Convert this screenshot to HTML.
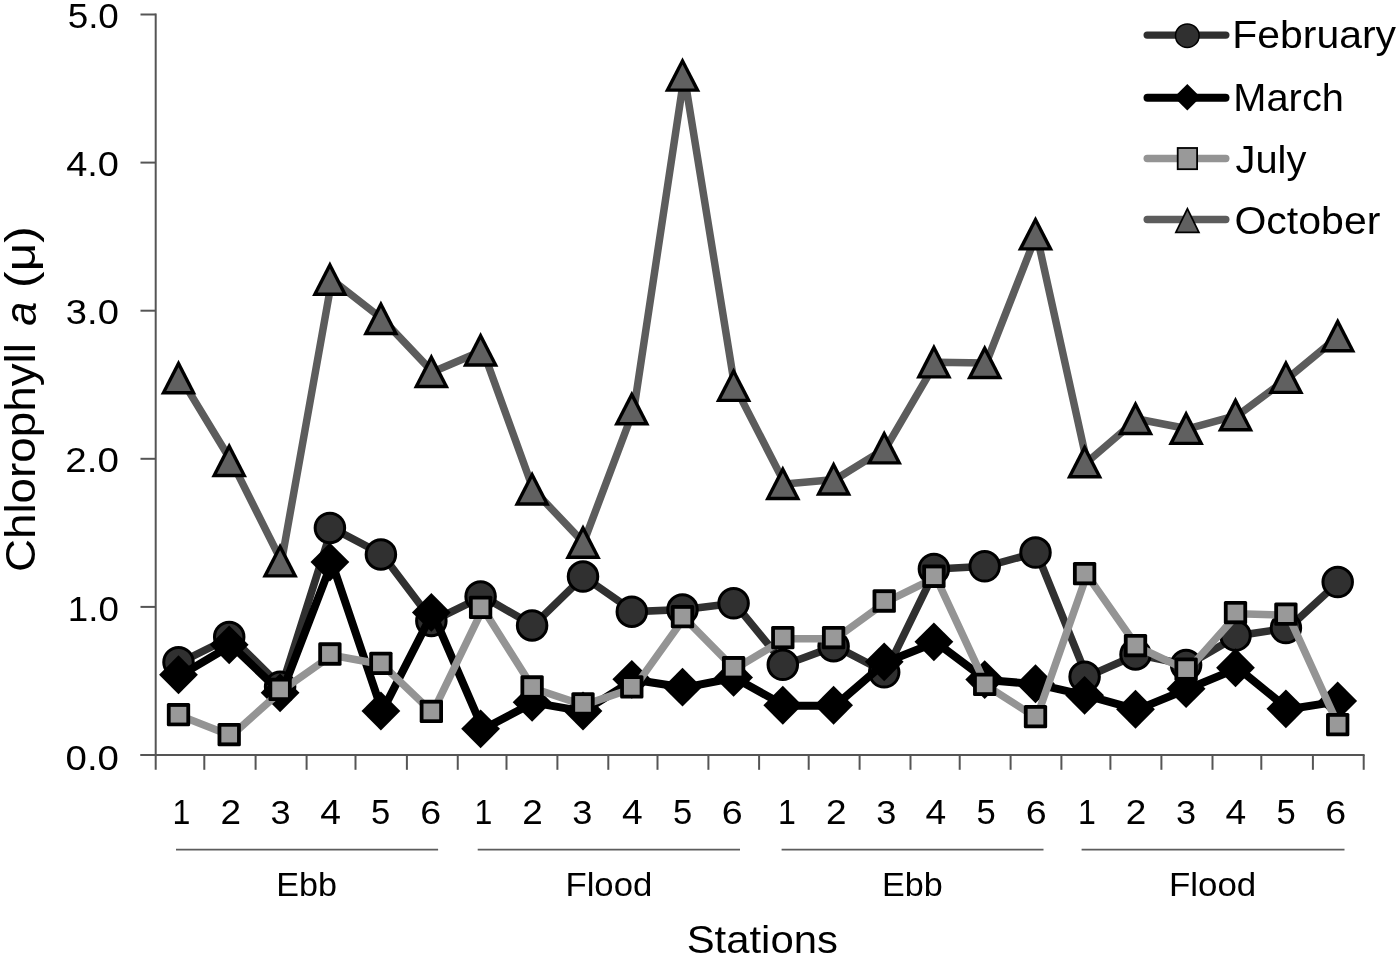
<!DOCTYPE html><html><head><meta charset="utf-8"><title>Chlorophyll a by station</title><style>html,body{margin:0;padding:0;background:#fff;overflow:hidden;}svg{display:block;filter:grayscale(1);}</style></head><body>
<svg width="1400" height="957" viewBox="0 0 1400 957">
<rect width="1400" height="957" fill="#fff"/>
<g stroke="#555555" stroke-width="2" fill="none">
<line x1="155.7" y1="13.5" x2="155.7" y2="769.8"/>
<line x1="140.5" y1="755.00" x2="155.7" y2="755.00"/>
<line x1="140.5" y1="606.90" x2="155.7" y2="606.90"/>
<line x1="140.5" y1="458.80" x2="155.7" y2="458.80"/>
<line x1="140.5" y1="310.70" x2="155.7" y2="310.70"/>
<line x1="140.5" y1="162.60" x2="155.7" y2="162.60"/>
<line x1="140.5" y1="14.50" x2="155.7" y2="14.50"/>
<line x1="140.5" y1="755.0" x2="1364.6" y2="755.0"/>
<line x1="204.30" y1="755.0" x2="204.30" y2="769.8"/>
<line x1="255.60" y1="755.0" x2="255.60" y2="769.8"/>
<line x1="306.60" y1="755.0" x2="306.60" y2="769.8"/>
<line x1="355.50" y1="755.0" x2="355.50" y2="769.8"/>
<line x1="406.90" y1="755.0" x2="406.90" y2="769.8"/>
<line x1="457.75" y1="755.0" x2="457.75" y2="769.8"/>
<line x1="506.50" y1="755.0" x2="506.50" y2="769.8"/>
<line x1="557.40" y1="755.0" x2="557.40" y2="769.8"/>
<line x1="608.30" y1="755.0" x2="608.30" y2="769.8"/>
<line x1="657.50" y1="755.0" x2="657.50" y2="769.8"/>
<line x1="708.40" y1="755.0" x2="708.40" y2="769.8"/>
<line x1="759.10" y1="755.0" x2="759.10" y2="769.8"/>
<line x1="808.70" y1="755.0" x2="808.70" y2="769.8"/>
<line x1="859.60" y1="755.0" x2="859.60" y2="769.8"/>
<line x1="910.50" y1="755.0" x2="910.50" y2="769.8"/>
<line x1="959.70" y1="755.0" x2="959.70" y2="769.8"/>
<line x1="1010.60" y1="755.0" x2="1010.60" y2="769.8"/>
<line x1="1061.40" y1="755.0" x2="1061.40" y2="769.8"/>
<line x1="1110.40" y1="755.0" x2="1110.40" y2="769.8"/>
<line x1="1161.40" y1="755.0" x2="1161.40" y2="769.8"/>
<line x1="1212.50" y1="755.0" x2="1212.50" y2="769.8"/>
<line x1="1261.30" y1="755.0" x2="1261.30" y2="769.8"/>
<line x1="1312.90" y1="755.0" x2="1312.90" y2="769.8"/>
<line x1="1363.70" y1="755.0" x2="1363.70" y2="769.8"/>
</g>
<g stroke="#5c5c5c" stroke-width="1.7">
<line x1="176.0" y1="849.6" x2="438.09999999999997" y2="849.6"/>
<line x1="477.70000000000005" y1="849.6" x2="740.0" y2="849.6"/>
<line x1="781.6" y1="849.6" x2="1043.5" y2="849.6"/>
<line x1="1081.6" y1="849.6" x2="1344.5" y2="849.6"/>
</g>
<text font-family="Liberation Sans, sans-serif" font-size="34.65" transform="translate(67.63,27.65) scale(1.0641,1)" >5.0</text>
<text font-family="Liberation Sans, sans-serif" font-size="34.93" transform="translate(66.15,175.75) scale(1.0868,1)" >4.0</text>
<text font-family="Liberation Sans, sans-serif" font-size="35.07" transform="translate(65.87,323.65) scale(1.0883,1)" >3.0</text>
<text font-family="Liberation Sans, sans-serif" font-size="34.93" transform="translate(65.37,472.15) scale(1.1033,1)" >2.0</text>
<text font-family="Liberation Sans, sans-serif" font-size="34.79" transform="translate(67.85,620.65) scale(1.0551,1)" >1.0</text>
<text font-family="Liberation Sans, sans-serif" font-size="34.65" transform="translate(65.56,769.55) scale(1.1082,1)" >0.0</text>
<text font-family="Liberation Sans, sans-serif" font-size="34.78" transform="translate(172.59,824.00) scale(0.9227,1)" >1</text>
<text font-family="Liberation Sans, sans-serif" font-size="34.29" transform="translate(220.55,824.00) scale(1.0769,1)" >2</text>
<text font-family="Liberation Sans, sans-serif" font-size="33.80" transform="translate(270.55,823.66) scale(1.0700,1)" >3</text>
<text font-family="Liberation Sans, sans-serif" font-size="34.78" transform="translate(320.17,824.00) scale(1.0695,1)" >4</text>
<text font-family="Liberation Sans, sans-serif" font-size="34.29" transform="translate(371.02,823.66) scale(1.0070,1)" >5</text>
<text font-family="Liberation Sans, sans-serif" font-size="33.80" transform="translate(420.37,823.66) scale(1.1126,1)" >6</text>
<text font-family="Liberation Sans, sans-serif" font-size="34.78" transform="translate(474.39,824.00) scale(0.9227,1)" >1</text>
<text font-family="Liberation Sans, sans-serif" font-size="34.29" transform="translate(522.25,824.00) scale(1.0769,1)" >2</text>
<text font-family="Liberation Sans, sans-serif" font-size="33.80" transform="translate(572.25,823.66) scale(1.0700,1)" >3</text>
<text font-family="Liberation Sans, sans-serif" font-size="34.78" transform="translate(622.07,824.00) scale(1.0695,1)" >4</text>
<text font-family="Liberation Sans, sans-serif" font-size="34.29" transform="translate(673.12,823.66) scale(1.0070,1)" >5</text>
<text font-family="Liberation Sans, sans-serif" font-size="33.80" transform="translate(721.67,823.66) scale(1.1126,1)" >6</text>
<text font-family="Liberation Sans, sans-serif" font-size="34.78" transform="translate(778.09,824.00) scale(0.9227,1)" >1</text>
<text font-family="Liberation Sans, sans-serif" font-size="34.29" transform="translate(826.05,824.00) scale(1.0769,1)" >2</text>
<text font-family="Liberation Sans, sans-serif" font-size="33.80" transform="translate(876.35,823.66) scale(1.0700,1)" >3</text>
<text font-family="Liberation Sans, sans-serif" font-size="34.78" transform="translate(925.47,824.00) scale(1.0695,1)" >4</text>
<text font-family="Liberation Sans, sans-serif" font-size="34.29" transform="translate(976.52,823.66) scale(1.0070,1)" >5</text>
<text font-family="Liberation Sans, sans-serif" font-size="33.80" transform="translate(1025.87,823.66) scale(1.1126,1)" >6</text>
<text font-family="Liberation Sans, sans-serif" font-size="34.78" transform="translate(1078.09,824.00) scale(0.9227,1)" >1</text>
<text font-family="Liberation Sans, sans-serif" font-size="34.29" transform="translate(1125.85,824.00) scale(1.0769,1)" >2</text>
<text font-family="Liberation Sans, sans-serif" font-size="33.80" transform="translate(1175.95,823.66) scale(1.0700,1)" >3</text>
<text font-family="Liberation Sans, sans-serif" font-size="34.78" transform="translate(1225.47,824.00) scale(1.0695,1)" >4</text>
<text font-family="Liberation Sans, sans-serif" font-size="34.29" transform="translate(1276.62,823.66) scale(1.0070,1)" >5</text>
<text font-family="Liberation Sans, sans-serif" font-size="33.80" transform="translate(1325.17,823.66) scale(1.1126,1)" >6</text>
<text font-family="Liberation Sans, sans-serif" font-size="33.20" transform="translate(276.37,895.97) scale(1.0271,1)" >Ebb</text>
<text font-family="Liberation Sans, sans-serif" font-size="33.20" transform="translate(565.42,895.97) scale(1.0463,1)" >Flood</text>
<text font-family="Liberation Sans, sans-serif" font-size="33.33" transform="translate(882.07,895.97) scale(1.0247,1)" >Ebb</text>
<text font-family="Liberation Sans, sans-serif" font-size="33.20" transform="translate(1169.01,895.97) scale(1.0501,1)" >Flood</text>
<text font-family="Liberation Sans, sans-serif" font-size="38.50" transform="translate(686.72,952.61) scale(1.0867,1)" >Stations</text>
<text font-family="Liberation Sans, sans-serif" font-size="42.57" transform="translate(34.96,572.09) rotate(-90) scale(1.0758,1)" >Chlorophyll</text>
<text font-family="Liberation Sans, sans-serif" font-size="44.18" transform="translate(35.96,325.78) rotate(-90) scale(0.9739,1)" font-style="italic">a</text>
<text font-family="Liberation Sans, sans-serif" font-size="42.67" transform="translate(34.94,287.88) rotate(-90) scale(1.1633,1)" >(μ)</text>
<polyline points="180.87,662.14 231.21,637.11 281.54,686.87 331.88,527.96 382.22,554.47 432.56,620.97 482.89,596.38 533.23,625.41 583.57,576.54 633.91,611.64 684.24,609.57 734.58,603.35 784.92,664.81 835.26,646.15 885.59,672.36 935.93,568.99 986.27,566.32 1036.61,552.55 1086.94,676.80 1137.28,654.44 1187.62,664.96 1237.96,635.63 1288.29,628.08 1338.63,582.02" fill="none" stroke="#303030" stroke-width="7.6" stroke-linejoin="round" stroke-linecap="round"/>
<circle cx="178.50" cy="662.14" r="14.75" fill="#303030" stroke="#000" stroke-width="3"/>
<circle cx="229.20" cy="637.11" r="14.75" fill="#303030" stroke="#000" stroke-width="3"/>
<circle cx="280.10" cy="686.87" r="14.75" fill="#303030" stroke="#000" stroke-width="3"/>
<circle cx="329.90" cy="527.96" r="14.75" fill="#303030" stroke="#000" stroke-width="3"/>
<circle cx="380.90" cy="554.47" r="14.75" fill="#303030" stroke="#000" stroke-width="3"/>
<circle cx="431.35" cy="620.97" r="14.75" fill="#303030" stroke="#000" stroke-width="3"/>
<circle cx="480.60" cy="596.38" r="14.75" fill="#303030" stroke="#000" stroke-width="3"/>
<circle cx="532.10" cy="625.41" r="14.75" fill="#303030" stroke="#000" stroke-width="3"/>
<circle cx="583.00" cy="576.54" r="14.75" fill="#303030" stroke="#000" stroke-width="3"/>
<circle cx="631.80" cy="611.64" r="14.75" fill="#303030" stroke="#000" stroke-width="3"/>
<circle cx="682.50" cy="609.57" r="14.75" fill="#303030" stroke="#000" stroke-width="3"/>
<circle cx="733.60" cy="603.35" r="14.75" fill="#303030" stroke="#000" stroke-width="3"/>
<circle cx="782.80" cy="664.81" r="14.75" fill="#303030" stroke="#000" stroke-width="3"/>
<circle cx="833.60" cy="646.15" r="14.75" fill="#303030" stroke="#000" stroke-width="3"/>
<circle cx="884.20" cy="672.36" r="14.75" fill="#303030" stroke="#000" stroke-width="3"/>
<circle cx="933.90" cy="568.99" r="14.75" fill="#303030" stroke="#000" stroke-width="3"/>
<circle cx="984.70" cy="566.32" r="14.75" fill="#303030" stroke="#000" stroke-width="3"/>
<circle cx="1035.50" cy="552.55" r="14.75" fill="#303030" stroke="#000" stroke-width="3"/>
<circle cx="1084.60" cy="676.80" r="14.75" fill="#303030" stroke="#000" stroke-width="3"/>
<circle cx="1135.50" cy="654.44" r="14.75" fill="#303030" stroke="#000" stroke-width="3"/>
<circle cx="1186.10" cy="664.96" r="14.75" fill="#303030" stroke="#000" stroke-width="3"/>
<circle cx="1235.50" cy="635.63" r="14.75" fill="#303030" stroke="#000" stroke-width="3"/>
<circle cx="1285.90" cy="628.08" r="14.75" fill="#303030" stroke="#000" stroke-width="3"/>
<circle cx="1337.70" cy="582.02" r="14.75" fill="#303030" stroke="#000" stroke-width="3"/>
<polyline points="180.87,675.13 231.21,645.21 281.54,693.20 331.88,562.43 382.22,711.41 432.56,612.78 482.89,729.19 533.23,702.68 583.57,711.41 633.91,679.72 684.24,687.57 734.58,677.80 784.92,705.64 835.26,705.64 885.59,662.25 935.93,642.25 986.27,680.02 1036.61,684.16 1086.94,695.72 1137.28,709.64 1187.62,689.05 1237.96,668.17 1288.29,709.19 1338.63,701.34" fill="none" stroke="#000" stroke-width="8.0" stroke-linejoin="round" stroke-linecap="round"/>
<path d="M178.50,655.33L197.90,674.73L178.50,694.13L159.10,674.73Z" fill="#000"/>
<path d="M229.20,625.41L248.60,644.81L229.20,664.21L209.80,644.81Z" fill="#000"/>
<path d="M280.10,673.40L299.50,692.80L280.10,712.20L260.70,692.80Z" fill="#000"/>
<path d="M329.90,542.63L349.30,562.03L329.90,581.43L310.50,562.03Z" fill="#000"/>
<path d="M380.90,691.61L400.30,711.01L380.90,730.41L361.50,711.01Z" fill="#000"/>
<path d="M431.35,592.98L450.75,612.38L431.35,631.78L411.95,612.38Z" fill="#000"/>
<path d="M480.60,709.39L500.00,728.79L480.60,748.19L461.20,728.79Z" fill="#000"/>
<path d="M532.10,682.88L551.50,702.28L532.10,721.68L512.70,702.28Z" fill="#000"/>
<path d="M583.00,691.61L602.40,711.01L583.00,730.41L563.60,711.01Z" fill="#000"/>
<path d="M631.80,659.92L651.20,679.32L631.80,698.72L612.40,679.32Z" fill="#000"/>
<path d="M682.50,667.77L701.90,687.17L682.50,706.57L663.10,687.17Z" fill="#000"/>
<path d="M733.60,658.00L753.00,677.40L733.60,696.80L714.20,677.40Z" fill="#000"/>
<path d="M782.80,685.84L802.20,705.24L782.80,724.64L763.40,705.24Z" fill="#000"/>
<path d="M833.60,685.84L853.00,705.24L833.60,724.64L814.20,705.24Z" fill="#000"/>
<path d="M884.20,642.45L903.60,661.85L884.20,681.25L864.80,661.85Z" fill="#000"/>
<path d="M933.90,622.45L953.30,641.85L933.90,661.25L914.50,641.85Z" fill="#000"/>
<path d="M984.70,660.22L1004.10,679.62L984.70,699.02L965.30,679.62Z" fill="#000"/>
<path d="M1035.50,664.36L1054.90,683.76L1035.50,703.16L1016.10,683.76Z" fill="#000"/>
<path d="M1084.60,675.92L1104.00,695.32L1084.60,714.72L1065.20,695.32Z" fill="#000"/>
<path d="M1135.50,689.84L1154.90,709.24L1135.50,728.64L1116.10,709.24Z" fill="#000"/>
<path d="M1186.10,669.25L1205.50,688.65L1186.10,708.05L1166.70,688.65Z" fill="#000"/>
<path d="M1235.50,648.37L1254.90,667.77L1235.50,687.17L1216.10,667.77Z" fill="#000"/>
<path d="M1285.90,689.39L1305.30,708.79L1285.90,728.19L1266.50,708.79Z" fill="#000"/>
<path d="M1337.70,681.54L1357.10,700.94L1337.70,720.34L1318.30,700.94Z" fill="#000"/>
<polyline points="180.87,715.92 231.21,735.76 281.54,690.59 331.88,655.20 382.22,664.53 432.56,712.66 482.89,608.54 533.23,688.22 583.57,705.11 633.91,688.07 684.24,617.87 734.58,668.97 784.92,638.76 835.26,638.76 885.59,602.18 935.93,577.44 986.27,685.56 1036.61,717.84 1086.94,574.78 1137.28,646.75 1187.62,670.30 1237.96,613.73 1288.29,615.36 1338.63,725.84" fill="none" stroke="#949494" stroke-width="7.5" stroke-linejoin="round" stroke-linecap="round"/>
<rect x="166.85" y="703.07" width="23.3" height="23.3" rx="1.5" fill="#000"/><rect x="170.65" y="706.87" width="15.70" height="15.70" fill="#999"/>
<rect x="217.55" y="722.91" width="23.3" height="23.3" rx="1.5" fill="#000"/><rect x="221.35" y="726.71" width="15.70" height="15.70" fill="#999"/>
<rect x="268.45" y="677.74" width="23.3" height="23.3" rx="1.5" fill="#000"/><rect x="272.25" y="681.54" width="15.70" height="15.70" fill="#999"/>
<rect x="318.25" y="642.35" width="23.3" height="23.3" rx="1.5" fill="#000"/><rect x="322.05" y="646.15" width="15.70" height="15.70" fill="#999"/>
<rect x="369.25" y="651.68" width="23.3" height="23.3" rx="1.5" fill="#000"/><rect x="373.05" y="655.48" width="15.70" height="15.70" fill="#999"/>
<rect x="419.70" y="699.81" width="23.3" height="23.3" rx="1.5" fill="#000"/><rect x="423.50" y="703.61" width="15.70" height="15.70" fill="#999"/>
<rect x="468.95" y="595.69" width="23.3" height="23.3" rx="1.5" fill="#000"/><rect x="472.75" y="599.49" width="15.70" height="15.70" fill="#999"/>
<rect x="520.45" y="675.37" width="23.3" height="23.3" rx="1.5" fill="#000"/><rect x="524.25" y="679.17" width="15.70" height="15.70" fill="#999"/>
<rect x="571.35" y="692.26" width="23.3" height="23.3" rx="1.5" fill="#000"/><rect x="575.15" y="696.06" width="15.70" height="15.70" fill="#999"/>
<rect x="620.15" y="675.22" width="23.3" height="23.3" rx="1.5" fill="#000"/><rect x="623.95" y="679.02" width="15.70" height="15.70" fill="#999"/>
<rect x="670.85" y="605.02" width="23.3" height="23.3" rx="1.5" fill="#000"/><rect x="674.65" y="608.82" width="15.70" height="15.70" fill="#999"/>
<rect x="721.95" y="656.12" width="23.3" height="23.3" rx="1.5" fill="#000"/><rect x="725.75" y="659.92" width="15.70" height="15.70" fill="#999"/>
<rect x="771.15" y="625.91" width="23.3" height="23.3" rx="1.5" fill="#000"/><rect x="774.95" y="629.71" width="15.70" height="15.70" fill="#999"/>
<rect x="821.95" y="625.91" width="23.3" height="23.3" rx="1.5" fill="#000"/><rect x="825.75" y="629.71" width="15.70" height="15.70" fill="#999"/>
<rect x="872.55" y="589.33" width="23.3" height="23.3" rx="1.5" fill="#000"/><rect x="876.35" y="593.13" width="15.70" height="15.70" fill="#999"/>
<rect x="922.25" y="564.59" width="23.3" height="23.3" rx="1.5" fill="#000"/><rect x="926.05" y="568.39" width="15.70" height="15.70" fill="#999"/>
<rect x="973.05" y="672.71" width="23.3" height="23.3" rx="1.5" fill="#000"/><rect x="976.85" y="676.51" width="15.70" height="15.70" fill="#999"/>
<rect x="1023.85" y="704.99" width="23.3" height="23.3" rx="1.5" fill="#000"/><rect x="1027.65" y="708.79" width="15.70" height="15.70" fill="#999"/>
<rect x="1072.95" y="561.93" width="23.3" height="23.3" rx="1.5" fill="#000"/><rect x="1076.75" y="565.73" width="15.70" height="15.70" fill="#999"/>
<rect x="1123.85" y="633.90" width="23.3" height="23.3" rx="1.5" fill="#000"/><rect x="1127.65" y="637.70" width="15.70" height="15.70" fill="#999"/>
<rect x="1174.45" y="657.45" width="23.3" height="23.3" rx="1.5" fill="#000"/><rect x="1178.25" y="661.25" width="15.70" height="15.70" fill="#999"/>
<rect x="1223.85" y="600.88" width="23.3" height="23.3" rx="1.5" fill="#000"/><rect x="1227.65" y="604.68" width="15.70" height="15.70" fill="#999"/>
<rect x="1274.25" y="602.51" width="23.3" height="23.3" rx="1.5" fill="#000"/><rect x="1278.05" y="606.31" width="15.70" height="15.70" fill="#999"/>
<rect x="1326.05" y="712.99" width="23.3" height="23.3" rx="1.5" fill="#000"/><rect x="1329.85" y="716.79" width="15.70" height="15.70" fill="#999"/>
<polyline points="180.87,378.15 231.21,460.94 281.54,561.35 331.88,279.66 382.22,318.91 432.56,371.93 482.89,350.45 533.23,489.52 583.57,542.69 633.91,409.25 684.24,75.58 734.58,385.85 784.92,483.89 835.26,479.45 885.59,448.35 935.93,362.30 986.27,362.89 1036.61,234.34 1086.94,462.27 1137.28,419.02 1187.62,428.80 1237.96,415.17 1288.29,377.85 1338.63,336.24" fill="none" stroke="#5c5c5c" stroke-width="7.5" stroke-linejoin="round" stroke-linecap="round"/>
<path d="M178.50,359.70L196.30,394.40L160.70,394.40Z" fill="#000"/><path d="M178.50,367.15L190.73,391.00L166.27,391.00Z" fill="#606060"/>
<path d="M229.20,442.49L247.00,477.19L211.40,477.19Z" fill="#000"/><path d="M229.20,449.94L241.43,473.79L216.97,473.79Z" fill="#606060"/>
<path d="M280.10,542.90L297.90,577.60L262.30,577.60Z" fill="#000"/><path d="M280.10,550.35L292.33,574.20L267.87,574.20Z" fill="#606060"/>
<path d="M329.90,261.21L347.70,295.91L312.10,295.91Z" fill="#000"/><path d="M329.90,268.66L342.13,292.51L317.67,292.51Z" fill="#606060"/>
<path d="M380.90,300.46L398.70,335.16L363.10,335.16Z" fill="#000"/><path d="M380.90,307.91L393.13,331.76L368.67,331.76Z" fill="#606060"/>
<path d="M431.35,353.48L449.15,388.18L413.55,388.18Z" fill="#000"/><path d="M431.35,360.93L443.58,384.78L419.12,384.78Z" fill="#606060"/>
<path d="M480.60,332.00L498.40,366.70L462.80,366.70Z" fill="#000"/><path d="M480.60,339.45L492.83,363.30L468.37,363.30Z" fill="#606060"/>
<path d="M532.10,471.07L549.90,505.77L514.30,505.77Z" fill="#000"/><path d="M532.10,478.52L544.33,502.37L519.87,502.37Z" fill="#606060"/>
<path d="M583.00,524.24L600.80,558.94L565.20,558.94Z" fill="#000"/><path d="M583.00,531.69L595.23,555.54L570.77,555.54Z" fill="#606060"/>
<path d="M631.80,390.80L649.60,425.50L614.00,425.50Z" fill="#000"/><path d="M631.80,398.25L644.03,422.10L619.57,422.10Z" fill="#606060"/>
<path d="M682.50,57.13L700.30,91.83L664.70,91.83Z" fill="#000"/><path d="M682.50,64.58L694.73,88.43L670.27,88.43Z" fill="#606060"/>
<path d="M733.60,367.40L751.40,402.10L715.80,402.10Z" fill="#000"/><path d="M733.60,374.85L745.83,398.70L721.37,398.70Z" fill="#606060"/>
<path d="M782.80,465.44L800.60,500.14L765.00,500.14Z" fill="#000"/><path d="M782.80,472.89L795.03,496.74L770.57,496.74Z" fill="#606060"/>
<path d="M833.60,461.00L851.40,495.70L815.80,495.70Z" fill="#000"/><path d="M833.60,468.45L845.83,492.30L821.37,492.30Z" fill="#606060"/>
<path d="M884.20,429.90L902.00,464.60L866.40,464.60Z" fill="#000"/><path d="M884.20,437.35L896.43,461.20L871.97,461.20Z" fill="#606060"/>
<path d="M933.90,343.85L951.70,378.55L916.10,378.55Z" fill="#000"/><path d="M933.90,351.30L946.13,375.15L921.67,375.15Z" fill="#606060"/>
<path d="M984.70,344.44L1002.50,379.14L966.90,379.14Z" fill="#000"/><path d="M984.70,351.89L996.93,375.74L972.47,375.74Z" fill="#606060"/>
<path d="M1035.50,215.89L1053.30,250.59L1017.70,250.59Z" fill="#000"/><path d="M1035.50,223.34L1047.73,247.19L1023.27,247.19Z" fill="#606060"/>
<path d="M1084.60,443.82L1102.40,478.52L1066.80,478.52Z" fill="#000"/><path d="M1084.60,451.27L1096.83,475.12L1072.37,475.12Z" fill="#606060"/>
<path d="M1135.50,400.57L1153.30,435.27L1117.70,435.27Z" fill="#000"/><path d="M1135.50,408.02L1147.73,431.87L1123.27,431.87Z" fill="#606060"/>
<path d="M1186.10,410.35L1203.90,445.05L1168.30,445.05Z" fill="#000"/><path d="M1186.10,417.80L1198.33,441.65L1173.87,441.65Z" fill="#606060"/>
<path d="M1235.50,396.72L1253.30,431.42L1217.70,431.42Z" fill="#000"/><path d="M1235.50,404.17L1247.73,428.02L1223.27,428.02Z" fill="#606060"/>
<path d="M1285.90,359.40L1303.70,394.10L1268.10,394.10Z" fill="#000"/><path d="M1285.90,366.85L1298.13,390.70L1273.67,390.70Z" fill="#606060"/>
<path d="M1337.70,317.79L1355.50,352.49L1319.90,352.49Z" fill="#000"/><path d="M1337.70,325.24L1349.93,349.09L1325.47,349.09Z" fill="#606060"/>
<line x1="1147.15" y1="35.1" x2="1225.85" y2="35.1" stroke="#303030" stroke-width="7.3" stroke-linecap="round"/>
<circle cx="1187.3" cy="35.7" r="11.8" fill="#303030" stroke="#000" stroke-width="1.5"/>
<line x1="1147.50" y1="97.7" x2="1225.50" y2="97.7" stroke="#000" stroke-width="8.0" stroke-linecap="round"/>
<path d="M1187.30,84.00L1200.60,97.30L1187.30,110.60L1174.00,97.30Z" fill="#000"/>
<line x1="1147.15" y1="158.5" x2="1225.85" y2="158.5" stroke="#949494" stroke-width="7.3" stroke-linecap="round"/>
<rect x="1177.7" y="148.0" width="19.4" height="21.2" fill="#999" stroke="#000" stroke-width="1.8"/>
<line x1="1147.15" y1="219.5" x2="1225.85" y2="219.5" stroke="#5c5c5c" stroke-width="7.3" stroke-linecap="round"/>
<path d="M1187.40,206.80L1200.30,233.30L1174.50,233.30Z" fill="#000"/><path d="M1187.40,210.68L1197.58,231.60L1177.22,231.60Z" fill="#606060"/>
<text font-family="Liberation Sans, sans-serif" font-size="38.93" transform="translate(1232.22,48.32) scale(1.0517,1)" >February</text>
<text font-family="Liberation Sans, sans-serif" font-size="38.78" transform="translate(1233.32,111.01) scale(1.0267,1)" >March</text>
<text font-family="Liberation Sans, sans-serif" font-size="38.93" transform="translate(1235.50,172.82) scale(1.0231,1)" >July</text>
<text font-family="Liberation Sans, sans-serif" font-size="39.18" transform="translate(1234.45,233.71) scale(1.0471,1)" >October</text>
</svg></body></html>
